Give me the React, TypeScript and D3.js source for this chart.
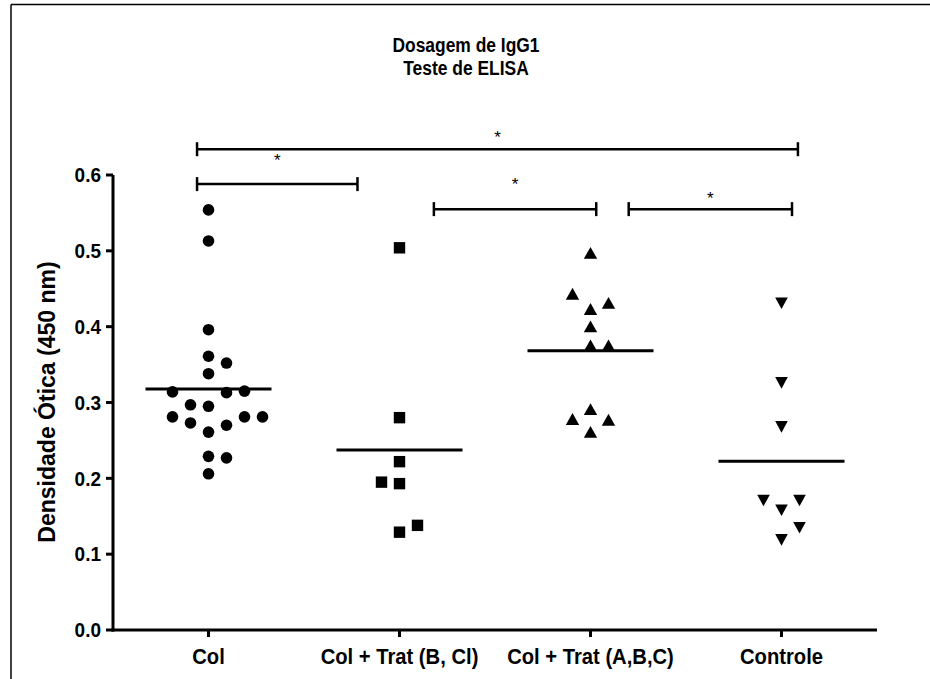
import React from "react";
import * as d3 from "d3";

// ---- data ----
const categories = ["Col", "Col + Trat (B, Cl)", "Col + Trat (A,B,C)", "Controle"];
const yTicks = [0.0, 0.1, 0.2, 0.3, 0.4, 0.5, 0.6];

const colValues = [0.554, 0.513, 0.396, 0.361, 0.352, 0.338, 0.314, 0.313, 0.315, 0.297, 0.295, 0.281, 0.281, 0.281, 0.273, 0.270, 0.261, 0.229, 0.227, 0.206];
const colSlots = [0, 0, 0, 0, 1, 0, -2, 1, 2, -1, 0, -2, 2, 3, -1, 1, 0, 0, 1, 0];

const tratBCValues = [0.504, 0.280, 0.222, 0.195, 0.193, 0.138, 0.129];
const tratBCSlots = [0, 0, 0, -1, 0, 1, 0];

const tratABCValues = [0.497, 0.443, 0.431, 0.423, 0.400, 0.375, 0.375, 0.291, 0.278, 0.277, 0.261];
const tratABCSlots = [0, -1, 1, 0, 0, 0, 1, 0, -1, 1, 0];

const controleValues = [0.431, 0.326, 0.268, 0.171, 0.171, 0.158, 0.135, 0.119];
const controleSlots = [0, 0, 0, -1, 1, 0, 1, 0];

// significance comparisons: span in category-index units, bar level and star level in y units
const sigFrom = [-0.06, -0.06, 1.18, 2.2];
const sigTo = [3.086, 0.78, 2.03, 3.055];
const sigLevel = [0.634, 0.588, 0.555, 0.555];
const sigStar = [0.654, 0.624, 0.592, 0.574];
const sigLabel = ["*", "*", "*", "*"];

const groups = [
  { values: colValues, slots: colSlots, shape: "circle" },
  { values: tratBCValues, slots: tratBCSlots, shape: "square" },
  { values: tratABCValues, slots: tratABCSlots, shape: "triangle" },
  { values: controleValues, slots: controleSlots, shape: "invtriangle" },
];

const W = 930;
const H = 679;
const FONT = "'Liberation Sans', Arial, Helvetica, sans-serif";

function T(props: { x: number; y: number; size: number; sx?: number; rot?: number; anchor?: string; dy?: string; children: any }) {
  const { x, y, size, sx = 1, rot = 0, anchor = "middle", dy } = props;
  return (
    <text
      transform={`translate(${x},${y}) rotate(${rot}) scale(${sx},1)`}
      textAnchor={anchor}
      fontWeight="bold"
      fontSize={size}
      dy={dy}
    >
      {props.children}
    </text>
  );
}

export default function App() {
  const x = d3.scaleBand().domain(categories).range([113, 877]).padding(0);
  const y = d3.scaleLinear().domain([0, 0.6]).range([630, 175]);
  const cx = (c: string) => (x(c) as number) + x.bandwidth() / 2;
  const idx = d3.scaleLinear().domain([0, 3]).range([cx(categories[0]), cx(categories[3])]);
  const slotW = 18;

  const marker = (shape: string, px: number, py: number, key: string) => {
    if (shape === "circle") return <circle key={key} cx={px} cy={py} r={5.8} fill="#000" />;
    if (shape === "square") return <rect key={key} x={px - 5.7} y={py - 5.7} width={11.4} height={11.4} fill="#000" />;
    if (shape === "triangle") {
      const p = d3.path();
      p.moveTo(px, py - 6.2);
      p.lineTo(px + 6.7, py + 5.7);
      p.lineTo(px - 6.7, py + 5.7);
      p.closePath();
      return <path key={key} d={p.toString()} fill="#000" />;
    }
    const p = d3.path();
    p.moveTo(px - 6.3, py - 5.7);
    p.lineTo(px + 6.3, py - 5.7);
    p.lineTo(px, py + 5.9);
    p.closePath();
    return <path key={key} d={p.toString()} fill="#000" />;
  };

  return (
    <div style={{ position: "absolute", left: 0, top: 0 }}>
      <svg width={W} height={H} style={{ display: "block", background: "#fff" }} fontFamily={FONT}>
        {/* frame */}
        <line x1={11} y1={4.5} x2={W} y2={4.5} stroke="#000" strokeWidth={1.5} />
        <line x1={11} y1={4.5} x2={11} y2={H} stroke="#000" strokeWidth={1.5} />

        {/* title */}
        <T x={466} y={52} size={21} sx={0.83}>Dosagem de IgG1</T>
        <T x={466} y={75} size={21} sx={0.83}>Teste de ELISA</T>

        {/* y label */}
        <T x={55} y={402} size={23.5} sx={0.98} rot={-90}>Densidade Ótica (450 nm)</T>

        {/* axes */}
        <line x1={113} y1={y(0.6)} x2={113} y2={y(0) + 1.5} stroke="#000" strokeWidth={3} />
        <line x1={111.5} y1={y(0)} x2={877} y2={y(0)} stroke="#000" strokeWidth={3} />
        {yTicks.map((t) => (
          <g key={"yt" + t}>
            <line x1={106} x2={113} y1={y(t)} y2={y(t)} stroke="#000" strokeWidth={3} />
            <T x={101} y={y(t)} size={20} sx={0.95} anchor="end" dy="0.36em">
              {d3.format(".1f")(t)}
            </T>
          </g>
        ))}
        {categories.map((c) => (
          <g key={"xt" + c}>
            <line x1={cx(c)} x2={cx(c)} y1={y(0)} y2={y(0) + 7} stroke="#000" strokeWidth={3} />
            <T x={cx(c)} y={664} size={21.5} sx={0.94}>
              {c}
            </T>
          </g>
        ))}

        {/* points + mean lines */}
        {groups.map((g, gi) => {
          const c = cx(categories[gi]);
          const m = d3.mean(g.values) as number;
          return (
            <g key={"g" + gi}>
              {g.values.map((v, i) => marker(g.shape, c + g.slots[i] * slotW, y(v), gi + "-" + i))}
              <line x1={c - 63} x2={c + 63} y1={y(m)} y2={y(m)} stroke="#000" strokeWidth={3} />
            </g>
          );
        })}

        {/* significance bars */}
        {sigFrom.map((f, i) => {
          const x1 = idx(f);
          const x2 = idx(sigTo[i]);
          const yy = y(sigLevel[i]);
          return (
            <g key={"sig" + i} stroke="#000" strokeWidth={2.5}>
              <line x1={x1} x2={x2} y1={yy} y2={yy} />
              <line x1={x1} x2={x1} y1={yy - 7} y2={yy + 7} />
              <line x1={x2} x2={x2} y1={yy - 7} y2={yy + 7} />
              <text x={(x1 + x2) / 2} y={y(sigStar[i]) + 9} textAnchor="middle" fontSize={17} stroke="none" fill="#000">
                {sigLabel[i]}
              </text>
            </g>
          );
        })}
      </svg>
    </div>
  );
}
